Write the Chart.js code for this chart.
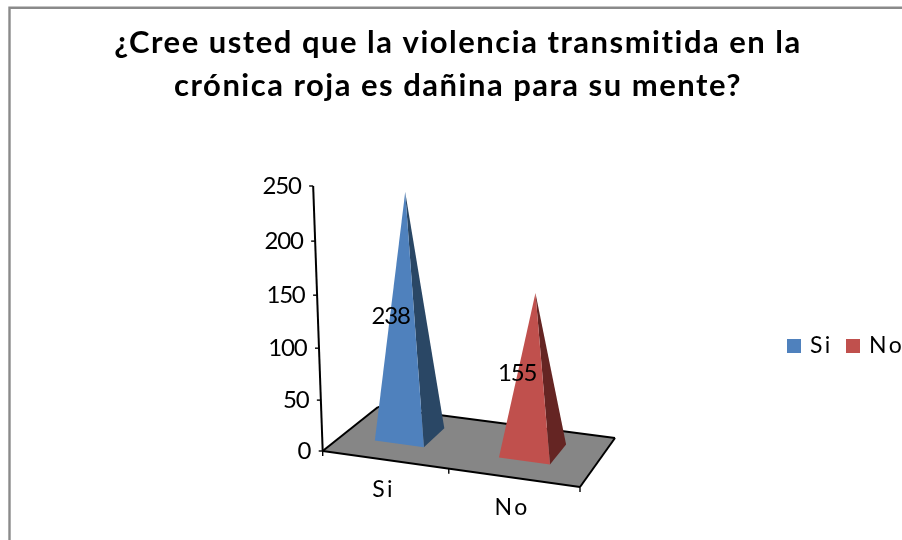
<!DOCTYPE html>
<html><head><meta charset="utf-8">
<style>html,body{margin:0;padding:0;background:#fff}canvas{display:block}</style>
<script src="https://cdn.jsdelivr.net/npm/chart.js@4"></script>
</head><body><canvas id="c" width="902" height="540"></canvas>
<script>
const titleLines = ['¿Cree usted que la violencia transmitida en la', 'crónica roja es dañina para su mente?'];
const categories = ['Si', 'No'];
const values = [238, 155];
const colors = ['#4f81bd', '#c0504d'];
const sideColors = ['#2a4765', '#652523'];
const FONT = 'Lato, Carlito, sans-serif';

// oblique projection of the plot box: unit floor (u across, v deep) + height from the y scale
const depthX = 55.3, depthY = -44, depthSkewX = -20.3, depthSkewY = -5, slope = 0.14;
function project(chart, u, v, yPx) {
  const a = chart.chartArea, w = a.width;
  const uu = u * (0.96 + 0.04 * u);
  const fx = a.left + uu * w + v * depthX + uu * v * depthSkewX;
  const fy = a.bottom + uu * w * slope + v * depthY + uu * v * depthSkewY;
  const t = (a.bottom - yPx) / a.height;
  const k = 0.05 * Math.max(0, 1 - 2 * v);
  const h = (a.bottom - yPx) * (1 - 0.07 * v) * (1 - k + k * t);
  const lean = -0.036 + 0.0718 * uu;
  return [fx + h * lean, fy - h];
}
function poly(ctx, pts, fill) {
  ctx.beginPath();
  pts.forEach((p, i) => i ? ctx.lineTo(p[0], p[1]) : ctx.moveTo(p[0], p[1]));
  ctx.closePath();
  ctx.fillStyle = fill;
  ctx.fill();
}
function line(ctx, a, b) {
  ctx.beginPath(); ctx.moveTo(a[0], a[1]); ctx.lineTo(b[0], b[1]); ctx.stroke();
}
const uOf = (chart, px) => (px - chart.chartArea.left) / chart.chartArea.width;

const pyramid3d = {
  id: 'pyramid3d',
  afterLayout(chart) {
    const t = chart.titleBlock;
    t.left = 12; t.right = 904;
  },
  beforeDraw(chart) {
    const ctx = chart.ctx;
    ctx.save();
    ctx.strokeStyle = '#8a8a8a';
    ctx.lineWidth = 2.4;
    ctx.beginPath();
    ctx.moveTo(9.5, 545); ctx.lineTo(9.5, 7.8); ctx.lineTo(905, 7.8);
    ctx.stroke();
    ctx.restore();
    ctx.letterSpacing = '1.5px';
  },
  beforeDatasetsDraw(chart) {
    const ctx = chart.ctx, a = chart.chartArea, ys = chart.scales.y, xs = chart.scales.x;
    ctx.save();
    const b = a.bottom;
    const FL = project(chart, 0, 0, b), FR = project(chart, 1, 0, b),
          BR = project(chart, 1, 1, b), BL = project(chart, 0, 1, b);
    poly(ctx, [FL, FR, BR, BL], '#868686');
    ctx.strokeStyle = '#000';
    ctx.lineWidth = 2;
    ctx.lineJoin = 'round';
    line(ctx, FL, FR); line(ctx, FR, BR); line(ctx, BR, BL); line(ctx, BL, FL);
    // value axis
    line(ctx, FL, project(chart, 0, 0, a.top));
    ctx.font = '24px ' + FONT;
    ctx.letterSpacing = '-1.2px';
    ctx.fillStyle = '#000';
    ctx.textAlign = 'right';
    ctx.textBaseline = 'middle';
    ys.ticks.forEach((tk) => {
      const p = project(chart, 0, 0, ys.getPixelForValue(tk.value));
      ctx.lineWidth = 1.4;
      line(ctx, p, [p[0] - 4, p[1]]);
      ctx.fillText(String(tk.value), p[0] - 12.5, p[1]);
    });
    // category axis
    ctx.textAlign = 'center';
    ctx.font = '23px ' + FONT;
    ctx.letterSpacing = '2.5px';
    categories.forEach((name, i) => {
      const p = project(chart, uOf(chart, xs.getPixelForValue(i)), 0, b);
      ctx.fillText(name, p[0] - 1.5, p[1] + 30);
    });
    for (let i = 0; i <= categories.length; i++) {
      const p = project(chart, i / categories.length, 0, b);
      ctx.lineWidth = 1.4;
      line(ctx, p, [p[0], p[1] + 5]);
    }
    ctx.restore();
  },
  beforeDatasetDraw(chart, args) {
    const ctx = chart.ctx, meta = args.meta, a = chart.chartArea, b = a.bottom;
    ctx.save();
    meta.data.forEach((bar, i) => {
      const uc = uOf(chart, bar.x) - 0.012, hw = bar.width / a.width / 2;
      const v0 = 0.34, v1 = 0.76;
      const f1 = project(chart, uc - hw, v0, b), f2 = project(chart, uc + hw, v0, b),
            b2 = project(chart, uc + hw, v1, b);
      const apex = project(chart, uc, (v0 + v1) / 2, bar.y);
      poly(ctx, [apex, f2, b2], sideColors[i]);
      poly(ctx, [apex, f1, f2], colors[i]);
    });
    ctx.restore();
    return false;
  },
  afterDatasetsDraw(chart) {
    const ctx = chart.ctx, a = chart.chartArea, b = a.bottom;
    ctx.save();
    ctx.letterSpacing = '-1.2px';
    ctx.font = '24px ' + FONT;
    ctx.fillStyle = '#000';
    ctx.textAlign = 'center';
    ctx.textBaseline = 'middle';
    chart.getDatasetMeta(0).data.forEach((bar, i) => {
      const uc = uOf(chart, bar.x) - 0.012;
      const p = project(chart, uc, 0.55, (bar.y + b) / 2);
      ctx.fillText(String(values[i]), p[0] - 17, p[1] + (i === 0 ? 3 : 1));
    });
    // legend
    ctx.font = '23px ' + FONT;
    ctx.letterSpacing = '2.5px';
    ctx.textAlign = 'left';
    const boxX = [787, 846], textX = [810, 869], midY = 346;
    categories.forEach((name, i) => {
      ctx.fillStyle = colors[i];
      ctx.fillRect(boxX[i], midY - 7, 14, 14);
      ctx.fillStyle = '#000';
      ctx.fillText(name, textX[i], midY);
    });
    ctx.restore();
  }
};

new Chart(document.getElementById('c'), {
  type: 'bar',
  data: {
    labels: categories,
    datasets: [{ data: values, backgroundColor: colors, barPercentage: 0.4, categoryPercentage: 1 }]
  },
  options: {
    responsive: false,
    animation: false,
    layout: { padding: { left: 322.7, right: 322, top: 0, bottom: 89 } },
    plugins: {
      legend: { display: false },
      tooltip: { enabled: false },
      title: {
        display: true,
        text: titleLines,
        color: '#000',
        font: { family: FONT, size: 31, weight: 'bold', lineHeight: 1.387 },
        padding: { top: 22, bottom: 78 }
      }
    },
    scales: {
      x: { display: false },
      y: { display: false, min: 0, max: 250, ticks: { stepSize: 50 } }
    }
  },
  plugins: [pyramid3d]
});
</script></body></html>
